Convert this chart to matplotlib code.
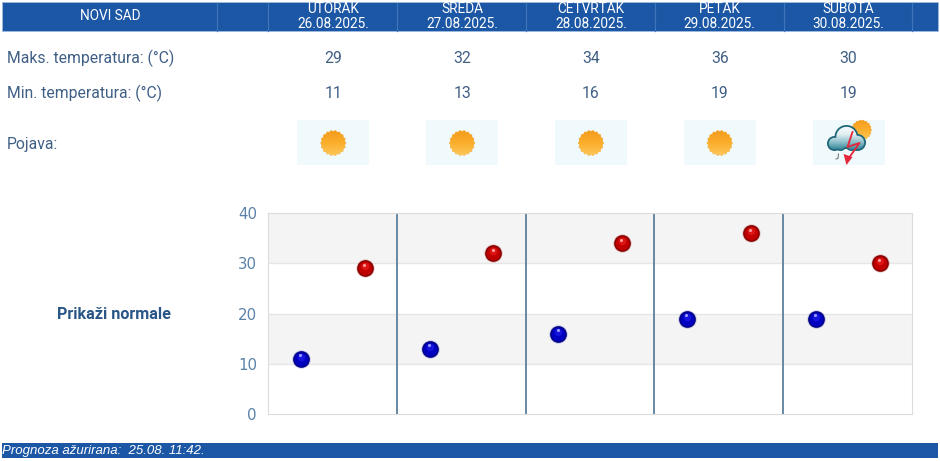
import numpy as np
import matplotlib
matplotlib.use("Agg")
import matplotlib.pyplot as plt
from matplotlib.patches import Rectangle, Polygon, PathPatch
from matplotlib.path import Path
from matplotlib.colors import LinearSegmentedColormap

city = "NOVI SAD"
days = ["UTORAK", "SREDA", "ČETVRTAK", "PETAK", "SUBOTA"]
dates = ["26.08.2025.", "27.08.2025.", "28.08.2025.", "29.08.2025.", "30.08.2025."]
t_max = [29, 32, 34, 36, 30]
t_min = [11, 13, 16, 19, 19]
row_labels = ["Maks. temperatura: (°C)", "Min. temperatura: (°C)", "Pojava:"]
icons = ["sun", "sun", "sun", "sun", "storm"]
y_ticks = [0, 10, 20, 30, 40]
button = "Prikaži normale"
footer = "Prognoza ažurirana:  25.08. 11:42."

W, H = 940, 461
BLUE = "#1c57a5"
TXT = "#3f5f85"
FONT = "Roboto"
plt.rcParams["font.family"] = [FONT, "DejaVu Sans"]

fig = plt.figure(figsize=(W / 100, H / 100), dpi=100, facecolor="white")
bg = fig.add_axes([0, 0, 1, 1])
bg.set_xlim(0, W)
bg.set_ylim(H, 0)
bg.axis("off")

# header + footer
bg.add_patch(Rectangle((2, 2.5), 936, 29, fc=BLUE, ec="#9dbbe0", lw=0.6))
bg.add_patch(Rectangle((2, 443), 936, 15, fc=BLUE, ec="none"))
seps = [217, 268, 397, 526, 655, 784, 912]
for s in seps:
    bg.plot([s, s], [3, 31], color="#3f74bb", lw=0.9)
bg.text(110, 16, city, color="white", fontsize=9.8, ha="center", va="center")
centers = [333.3 + 128.8 * i for i in range(5)]
for c, d, dt, a, b, ic in zip(centers, days, dates, t_max, t_min, icons):
    bg.text(c, 9, d, color="white", fontsize=9.8, ha="center", va="center")
    bg.text(c, 23.5, dt, color="white", fontsize=9.8, ha="center", va="center")
    bg.text(c, 58.5, str(a), color=TXT, fontsize=11.3, ha="center", va="center")
    bg.text(c, 93.5, str(b), color=TXT, fontsize=11.3, ha="center", va="center")
    bg.add_patch(Rectangle((c - 36, 120), 72, 45, fc="#f0fafd", ec="none"))

grad = LinearSegmentedColormap.from_list("sun", ["#f39a1c", "#fbae2c", "#fdc85a"])
cloud_grad = LinearSegmentedColormap.from_list("cloud", ["#f6fbfc", "#e4f0f3", "#8fc0cb", "#2f8496"])


def sun(cx, cy, r, z=3):
    ang = np.linspace(0, 2 * np.pi, 73)
    rad = r * (1 + 0.055 * np.cos(ang * 18))
    poly = Polygon(np.c_[cx + rad * np.cos(ang), cy + rad * np.sin(ang)],
                   fc="none", ec="#f3a62e", lw=0.5, zorder=z)
    bg.add_patch(poly)
    im = bg.imshow(np.linspace(0, 1, 64)[:, None], cmap=grad, aspect="auto",
                   extent=(cx - r - 1, cx + r + 1, cy + r + 1, cy - r - 1), zorder=z)
    im.set_clip_path(poly)


def cloud_path(lobes):
    paths = [Path.circle((x, y), r) for x, y, r in lobes]
    return Path.make_compound_path(*paths)


def storm(c):
    sun(c + 13, 130, 9.5, z=3)
    outer = [(c - 14, 143.5, 7.5), (c - 2, 137, 12), (c + 9, 142.5, 8.5), (c - 8, 145, 6), (c + 3, 145, 6)]
    inner = [(c - 14, 143.5, 5.7), (c - 2, 137, 10.2), (c + 9, 142.5, 6.7), (c - 8, 145, 4.5), (c + 3, 145, 4.5)]
    bg.add_patch(PathPatch(cloud_path(outer), fc="#1f6678", ec="none", zorder=4))
    clip = PathPatch(cloud_path(inner), fc="none", ec="none", zorder=5)
    bg.add_patch(clip)
    im = bg.imshow(np.linspace(0, 1, 64)[:, None], cmap=cloud_grad, aspect="auto",
                   extent=(c - 24, c + 20, 150, 126), zorder=5)
    im.set_clip_path(clip)
    bg.plot([c + 4, c - 1, c + 11, c - 1], [132, 147, 143, 160], color="#e3263a", lw=1.3, zorder=6)
    bg.add_patch(Polygon([[c - 5, 154], [c + 4, 157], [c - 2, 165]], fc="#e3263a", ec="none", zorder=6))
    bg.plot([c - 10, c - 10.5, c - 12.5], [154, 158.5, 159], color="#777777", lw=0.8, zorder=5)


for c, ic in zip(centers, icons):
    if ic == "sun":
        sun(c, 143, 12)
    else:
        storm(c)
bg.set_xlim(0, W)
bg.set_ylim(H, 0)

for y, lab in zip([58.5, 93.5, 144], row_labels):
    bg.text(7, y, lab, color=TXT, fontsize=11.3, ha="left", va="center")
bg.text(114, 314.5, button, color="#2a5688", fontsize=11.6, fontweight="bold", ha="center", va="center")
bg.text(2, 450.5, footer, color="white", fontsize=9.5, style="italic", ha="left", va="center",
        family="Liberation Sans")

# chart: tick labels are DejaVu Sans, so switch the default before the axes exist
plt.rcParams["font.family"] = ["DejaVu Sans"]
ax = fig.add_axes([268 / W, (H - 414) / H, 644 / W, 201 / H])
n = len(days)
ax.set_xlim(0, n)
ax.set_ylim(y_ticks[0], y_ticks[-1])
ax.set_facecolor("white")
for lo, hi in zip(y_ticks[:-1], y_ticks[1:]):
    if lo in (10, 30):
        ax.axhspan(lo, hi, fc="#f4f4f4", ec="none", zorder=0)
for t in y_ticks[1:-1]:
    ax.axhline(t, color="#e6e6e6", lw=1, zorder=1)
for i in range(1, n):
    ax.axvline(i, color="#5d7f9c", lw=1.3, zorder=2)
for s in ax.spines.values():
    s.set_color("#dcdcdc")
ax.set_xticks([])
ax.set_yticks(y_ticks)
ax.tick_params(axis="y", length=0, pad=8, labelsize=10.8, labelcolor="#5b82a8")

xs = np.arange(n)


def balls(x, y, edge, base, mid, light):
    ax.scatter(x, y, s=175, c=edge, linewidths=0, zorder=4, clip_on=False, alpha=0.2)
    ax.scatter(x, y, s=145, c=edge, linewidths=0, zorder=5, clip_on=False)
    ax.scatter(x, y, s=95, c=base, linewidths=0, zorder=6, clip_on=False)
    ax.scatter(x, np.array(y) + 0.4, s=30, c=mid, linewidths=0, zorder=7, clip_on=False)
    ax.scatter(x - 0.006, np.array(y) + 0.7, s=5, c=light, linewidths=0, zorder=8, clip_on=False)


balls(xs + 0.255, t_min, "#00008a", "#0000c0", "#1414dc", "#9a9aff")
balls(xs + 0.75, t_max, "#8a0000", "#c00000", "#dc1414", "#ff9a9a")

fig.savefig("out.png", dpi=100)
